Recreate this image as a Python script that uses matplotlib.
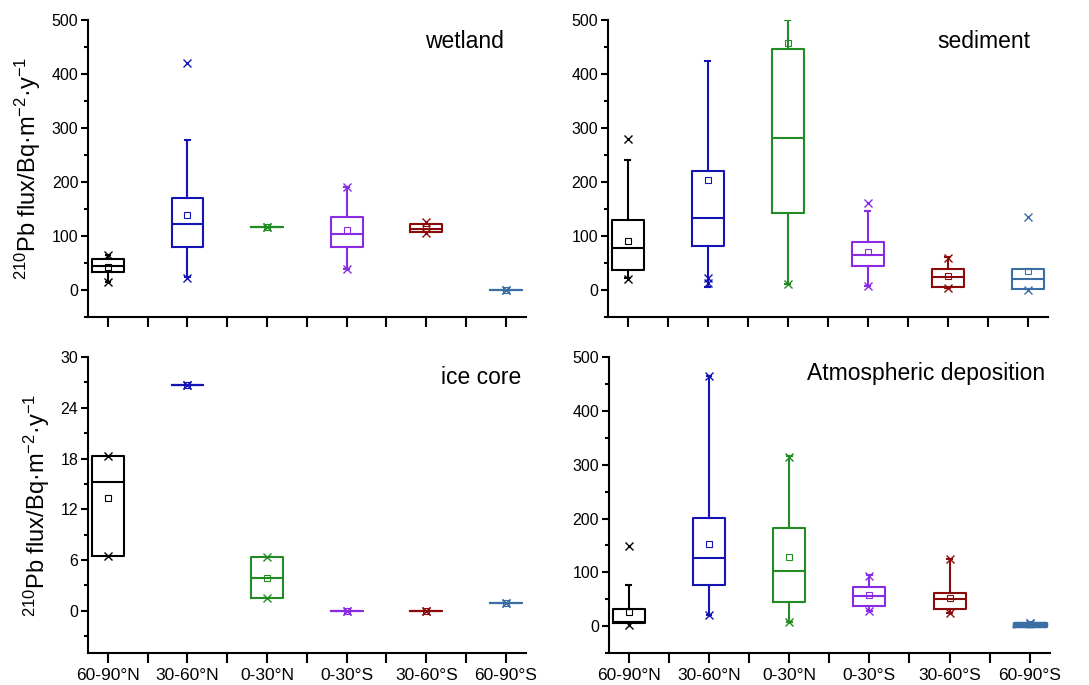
import numpy as np
import matplotlib
matplotlib.use("Agg")
import matplotlib.pyplot as plt
from matplotlib.ticker import MultipleLocator

plt.rcParams['font.family'] = ['Liberation Sans', 'DejaVu Sans']
plt.rcParams['mathtext.fontset'] = 'custom'
plt.rcParams['mathtext.rm'] = 'Liberation Sans'
plt.rcParams['mathtext.it'] = 'Liberation Sans:italic'
plt.rcParams['mathtext.bf'] = 'Liberation Sans:bold'
plt.rcParams['mathtext.default'] = 'regular'

categories = ["60-90°N", "30-60°N", "0-30°N", "0-30°S", "30-60°S", "60-90°S"]
colors = ["#000000", "#1414b4", "#228b22", "#8a2be2", "#8b0a0a", "#3a6ea5"]

# wetland
wet_q1 = [34, 79, 116, 80, 108, 0]
wet_med = [45, 122, 116, 103, 114, 0]
wet_q3 = [57, 171, 116, 135, 122, 0]
wet_mean = [43, 139, 116, 111, 114, 0]
wet_wlo = [15, 25, 116, 40, 108, 0]
wet_whi = [65, 277, 116, 191, 122, 0]
wet_xlo = [15, 23, 116, 40, 106, 0]
wet_xhi = [65, 421, 116, 191, 126, 0]

# sediment
sed_q1 = [38, 81, 143, 44, 6, 2.5]
sed_med = [78, 133, 281, 64.5, 24, 20.5]
sed_q3 = [129, 220, 447, 89, 40, 40]
sed_mean = [91, 204, 458, 71, 27, 36]
sed_wlo = [22, 5, 11, 7, 4, 2.5]
sed_whi = [240, 424, 500, 146, 61, 40]
sed_xlo = [20, 13, 11, 8, 4, 0]
sed_xhi = [280, 22, np.nan, 161, 60, 136]

# ice core
ice_q1 = [6.5, 26.7, 1.5, 0, 0, 0.87]
ice_med = [15.2, 26.7, 3.9, 0, 0, 0.87]
ice_q3 = [18.3, 26.7, 6.3, 0, 0, 0.87]
ice_mean = [13.3, 26.7, 3.9, 0, 0, 0.87]
ice_wlo = [6.5, 26.7, 1.5, 0, 0, 0.87]
ice_whi = [18.3, 26.7, 6.3, 0, 0, 0.87]
ice_xlo = [6.5, 26.7, 1.5, 0, 0, 0.87]
ice_xhi = [18.3, 26.7, 6.3, 0, 0, 0.87]

# atmospheric deposition
atm_q1 = [5, 77, 44, 37, 31.6, 1]
atm_med = [7, 127.5, 101.5, 56, 49.5, 3]
atm_q3 = [31.5, 200.5, 182, 73.6, 61, 5]
atm_mean = [26.6, 153.5, 129, 58, 53, 3]
atm_wlo = [5, 21, 7, 28.5, 23.5, 1]
atm_whi = [75.5, 465, 315.6, 94.7, 124, 5]
atm_xlo = [2.5, 21, 7, 29, 23.5, 6]
atm_xhi = [149, 465, 315, 94, 124, 6]

panels = [
    dict(title="wetland", q1=wet_q1, med=wet_med, q3=wet_q3, mean=wet_mean,
         wlo=wet_wlo, whi=wet_whi, xlo=wet_xlo, xhi=wet_xhi,
         ylim=(-50, 500), major=100, minor=50, pos=[0.0808, 0.537, 0.402, 0.434],
         tpos=(0.95, 0.926), xlabels=False, ylabel=True),
    dict(title="sediment", q1=sed_q1, med=sed_med, q3=sed_q3, mean=sed_mean,
         wlo=sed_wlo, whi=sed_whi, xlo=sed_xlo, xhi=sed_xhi,
         ylim=(-50, 500), major=100, minor=50, pos=[0.558, 0.537, 0.404, 0.434],
         tpos=(0.96, 0.926), xlabels=False, ylabel=False),
    dict(title="ice core", q1=ice_q1, med=ice_med, q3=ice_q3, mean=ice_mean,
         wlo=ice_wlo, whi=ice_whi, xlo=ice_xlo, xhi=ice_xhi,
         ylim=(-5, 30), major=6, minor=3, pos=[0.0808, 0.0467, 0.402, 0.432],
         tpos=(0.99, 0.93), xlabels=True, ylabel=True),
    dict(title="Atmospheric deposition", q1=atm_q1, med=atm_med, q3=atm_q3, mean=atm_mean,
         wlo=atm_wlo, whi=atm_whi, xlo=atm_xlo, xhi=atm_xhi,
         ylim=(-50, 500), major=100, minor=50, pos=[0.559, 0.0467, 0.405, 0.432],
         tpos=(0.99, 0.946), xlabels=True, ylabel=False),
]

fig = plt.figure(figsize=(10.89, 6.85), dpi=100)
lw = 1.5
positions = np.arange(1, len(categories) + 1)

for p in panels:
    ax = fig.add_axes(p["pos"])
    for i, c in enumerate(categories):
        st = dict(med=p["med"][i], q1=p["q1"][i], q3=p["q3"][i],
                  whislo=p["wlo"][i], whishi=p["whi"][i], mean=p["mean"][i], fliers=[])
        col = colors[i]
        lwi = lw
        if p["title"] == "Atmospheric deposition" and i == 5:
            lwi = 2.5
        ax.bxp([st], positions=[positions[i]], widths=0.4, showmeans=True,
               showfliers=False, capwidths=0.06,
               boxprops=dict(color=col, linewidth=lwi),
               medianprops=dict(color=col, linewidth=lwi),
               whiskerprops=dict(color=col, linewidth=lwi),
               capprops=dict(color=col, linewidth=lwi),
               meanprops=dict(marker='s', markerfacecolor='none',
                              markeredgecolor=col, markersize=5, markeredgewidth=0.8),
               manage_ticks=False)
        ax.plot([positions[i], positions[i]], [p["xlo"][i], p["xhi"][i]], linestyle='none',
                marker='x', color=col, markersize=6, markeredgewidth=1.0, clip_on=True)
    ax.set_xlim(0.75, 6.25)
    ax.set_ylim(*p["ylim"])
    ax.yaxis.set_major_locator(MultipleLocator(p["major"]))
    ax.yaxis.set_minor_locator(MultipleLocator(p["minor"]))
    ax.set_xticks(positions)
    ax.set_xticks(positions[:-1] + 0.5, minor=True)
    if p["xlabels"]:
        ax.set_xticklabels(categories, fontsize=12.5)
    else:
        ax.set_xticklabels([])
    for s in ["top", "right"]:
        ax.spines[s].set_visible(False)
    for s in ["left", "bottom"]:
        ax.spines[s].set_linewidth(1.5)
    ax.tick_params(axis='y', which='major', direction='out', length=5, width=1.5,
                   labelsize=11.5, pad=2)
    ax.tick_params(axis='y', which='minor', direction='out', length=3, width=1.5)
    ax.tick_params(axis='x', which='both', direction='out', length=7, width=1.5,
                   labelsize=12.5, pad=4)
    ax.text(p["tpos"][0], p["tpos"][1], p["title"], transform=ax.transAxes,
            ha='right', va='center', fontsize=16.5)
    if p["ylabel"]:
        ax.set_ylabel(r"$^{210}$Pb flux/Bq·m$^{-2}$·y$^{-1}$", fontsize=17, labelpad=6)

fig.savefig("out.png", dpi=100)
